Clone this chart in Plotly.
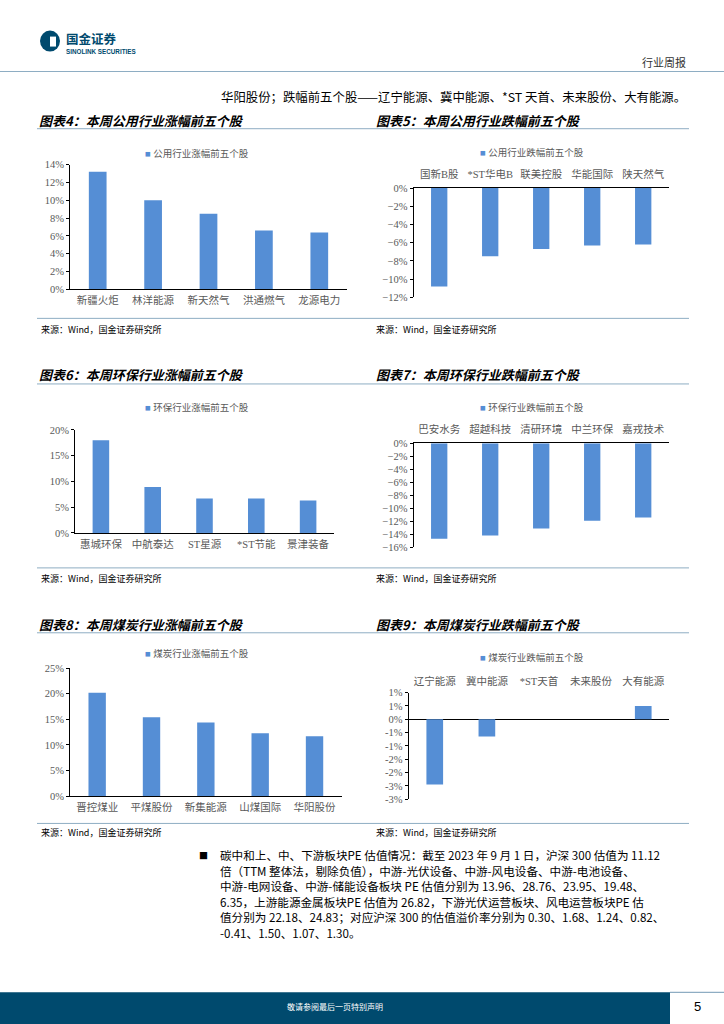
import plotly.graph_objects as go

W, H = 724, 1024

# ---------------- data ----------------
util_up_names = ["新疆火炬", "林洋能源", "新天然气", "洪通燃气", "龙源电力"]
util_up_vals = [13.2, 10.0, 8.5, 6.6, 6.4]

util_down_names = ["国新B股", "*ST华电B", "联美控股", "华能国际", "陕天然气"]
util_down_vals = [-10.8, -7.5, -6.7, -6.3, -6.2]

env_up_names = ["惠城环保", "中航泰达", "ST星源", "*ST节能", "景津装备"]
env_up_vals = [18.0, 8.9, 6.7, 6.7, 6.3]

env_down_names = ["巴安水务", "超越科技", "清研环境", "中兰环保", "嘉戎技术"]
env_down_vals = [-14.7, -14.2, -13.1, -11.9, -11.4]

coal_up_names = ["晋控煤业", "平煤股份", "新集能源", "山煤国际", "华阳股份"]
coal_up_vals = [20.2, 15.4, 14.4, 12.3, 11.7]

coal_down_names = ["辽宁能源", "冀中能源", "*ST天首", "未来股份", "大有能源"]
coal_down_vals = [-2.45, -0.65, 0.0, 0.0, 0.5]

coal_down_tickvals = [1, 0.5, 0, -0.5, -1, -1.5, -2, -2.5, -3]
coal_down_ticktext = ["1%", "1%", "0%", "-1%", "-1%", "-2%", "-2%", "-3%", "-3%"]

titles = ["图表4：本周公用行业涨幅前五个股", "图表5：本周公用行业跌幅前五个股",
          "图表6：本周环保行业涨幅前五个股", "图表7：本周环保行业跌幅前五个股",
          "图表8：本周煤炭行业涨幅前五个股", "图表9：本周煤炭行业跌幅前五个股"]
legend_names = ["公用行业涨幅前五个股", "公用行业跌幅前五个股",
                "环保行业涨幅前五个股", "环保行业跌幅前五个股",
                "煤炭行业涨幅前五个股", "煤炭行业跌幅前五个股"]
source_text = "来源：Wind，国金证券研究所"

header_line = "华阳股份；跌幅前五个股——辽宁能源、冀中能源、*ST 天首、未来股份、大有能源。"
para_lines = [
    "碳中和上、中、下游板块PE 估值情况：截至 2023 年 9 月 1 日，沪深 300 估值为 11.12",
    "倍（TTM 整体法，剔除负值），中游-光伏设备、中游-风电设备、中游-电池设备、",
    "中游-电网设备、中游-储能设备板块 PE 估值分别为 13.96、28.76、23.95、19.48、",
    "6.35，上游能源金属板块PE 估值为 26.82，下游光伏运营板块、风电运营板块PE 估",
    "值分别为 22.18、24.83；对应沪深 300 的估值溢价率分别为 0.30、1.68、1.24、0.82、",
    "-0.41、1.50、1.07、1.30。",
]

# ---------------- helpers ----------------
def X(px):
    return px / W

def Y(py):
    py = 1.009 * py - 4.4
    return 1 - py / H

BAR = "#558ED5"
GRAY = "#595959"
LINEC = "#8EADC3"
NAVY = "#004A6E"
SERIF = "Liberation Serif, Noto Sans CJK SC"
CJK = "Noto Sans CJK SC"

# chart layout specs: (names, vals, x0, x1, ytop_px, ybot_px, range, top_labels, dtick)
charts = [
    (util_up_names, util_up_vals, 70, 347, 164.3, 289.3, [0, 14], False, 2),
    (util_down_names, util_down_vals, 413.7, 668.7, 187.7, 297.3, [-12, 0], True, 2),
    (env_up_names, env_up_vals, 75, 334, 430, 533.3, [0, 20], False, 5),
    (env_down_names, env_down_vals, 413.7, 668.7, 443.3, 547.7, [-16, 0], True, 2),
    (coal_up_names, coal_up_vals, 70, 341.7, 668.7, 797, [0, 25], False, 5),
    (coal_down_names, coal_down_vals, 408.7, 669.3, 693.3, 800, [-3, 1], True, None),
]

fig = go.Figure()
layout = {}
for i, (names, vals, x0, x1, yt, yb, rng, top, dtick) in enumerate(charts):
    n = i + 1
    xa = "x" if n == 1 else f"x{n}"
    ya = "y" if n == 1 else f"y{n}"
    fig.add_trace(go.Bar(x=names, y=vals, xaxis=xa, yaxis=ya, marker_color=BAR,
                         marker_line_width=0, width=0.32, showlegend=False,
                         name=legend_names[i]))
    xkey = "xaxis" if n == 1 else f"xaxis{n}"
    ykey = "yaxis" if n == 1 else f"yaxis{n}"
    is9 = (n == 6)
    layout[xkey] = dict(domain=[X(x0), X(x1)], anchor=ya, type="category",
                        side="top" if top else "bottom",
                        showline=not is9, linecolor="black", linewidth=1,
                        ticks="", showgrid=False, zeroline=False,
                        ticklabelstandoff=(5 if top else 1),
                        tickfont=dict(family=SERIF, size=10.5, color=GRAY),
                        fixedrange=True)
    yd = dict(domain=[Y(yb), Y(yt)], anchor=xa, range=rng,
              showline=True, linecolor="black", linewidth=1,
              ticks="outside", ticklen=3, tickcolor="black",
              showgrid=False, zeroline=is9, zerolinecolor="black", zerolinewidth=1,
              tickfont=dict(family=SERIF, size=10.5, color=GRAY), fixedrange=True)
    if is9:
        yd.update(tickmode="array", tickvals=coal_down_tickvals, ticktext=coal_down_ticktext)
    else:
        yd.update(dtick=dtick, tick0=0, ticksuffix="%")
    layout[ykey] = yd

annotations = []
shapes = []

def txt(x, y, s, size, color="black", family=CJK, xanchor="left", yanchor="middle"):
    annotations.append(dict(x=X(x), y=Y(y), xref="paper", yref="paper", text=s,
                            showarrow=False, xanchor=xanchor, yanchor=yanchor,
                            font=dict(size=size, color=color, family=family)))

def hline(x0, x1, y, color=LINEC, width=1):
    shapes.append(dict(type="line", xref="paper", yref="paper", x0=X(x0), x1=X(x1),
                       y0=Y(y), y1=Y(y), line=dict(color=color, width=width)))

# header
shapes.append(dict(type="circle", xref="paper", yref="paper", x0=X(40), x1=X(60),
                   y0=Y(51), y1=Y(30), fillcolor=NAVY, line=dict(width=0)))
shapes.append(dict(type="rect", xref="paper", yref="paper", x0=X(50), x1=X(56),
                   y0=Y(46), y1=Y(36), fillcolor="white", line=dict(width=0)))
txt(64, 38, "<b>国金证券</b>", 12.5, NAVY)
txt(64, 50.5, "<b>SINOLINK SECURITIES</b>", 6.3, NAVY, family="Liberation Sans")
txt(688, 61, "行业周报", 11, "#333333", xanchor="right")
hline(0, 724, 71, LINEC, 1.2)
txt(688, 97, header_line, 12.4, "black", xanchor="right")

# chart frames
title_y = [120, 120, 375, 375, 625, 625]
title_x = [37, 374, 37, 374, 37, 374]
legend_y = [153, 152.3, 407.7, 407.7, 654.3, 657.7]
legend_x = [143, 478, 143, 478, 143, 478]
source_y = [329, 329, 579, 579, 833, 833]
source_x = [39, 374, 39, 374, 39, 374]
for i in range(6):
    txt(title_x[i], title_y[i], f"<b><i>{titles[i]}</i></b>", 13, "black")
    txt(legend_x[i], legend_y[i],
        f"<span style='color:{BAR}'>■</span> {legend_names[i]}", 9.5, GRAY, family=SERIF)
    txt(source_x[i], source_y[i], source_text, 9, "black")

for y in [128.3, 384, 633.3]:
    hline(37, 689, y)
for y in [318.3, 568.3, 824.3]:
    hline(37, 689, y)

# paragraph
txt(197, 856, "■", 9, "black")
for k, line in enumerate(para_lines):
    txt(218, 856 + 15.6 * k, line, 11.6, "black")

# footer
shapes.append(dict(type="rect", xref="paper", yref="paper", x0=X(0), x1=X(670),
                   y0=Y(1040), y1=Y(993.5), fillcolor=NAVY, line=dict(width=0)))
hline(670, 724, 993.5, LINEC, 1.2)
txt(335, 1008, "敬请参阅最后一页特别声明", 8, "white", xanchor="center")
txt(697, 1008, "5", 13, "black", family="Liberation Sans", xanchor="center")

fig.update_layout(width=W, height=H, margin=dict(l=0, r=0, t=0, b=0),
                  paper_bgcolor="white", plot_bgcolor="white",
                  showlegend=False, bargap=0.68,
                  annotations=annotations, shapes=shapes, **layout)

fig.write_html("out.html", config={"displayModeBar": False},
               post_script="document.body.style.margin='0';document.body.style.overflow='hidden';")
